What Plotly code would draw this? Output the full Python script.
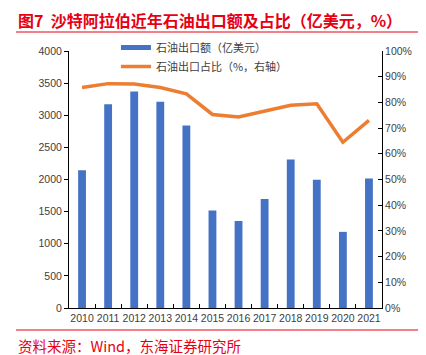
import plotly.graph_objects as go

years = ["2010", "2011", "2012", "2013", "2014", "2015", "2016", "2017", "2018", "2019", "2020", "2021"]
export_value = [2145, 3170, 3370, 3212, 2840, 1516, 1354, 1697, 2310, 1998, 1185, 2015]
export_share = [85.8, 87.3, 87.2, 85.8, 83.3, 75.3, 74.3, 76.7, 78.9, 79.5, 64.5, 73.0]
left_ticks = [0, 500, 1000, 1500, 2000, 2500, 3000, 3500, 4000]
right_ticks = [0, 10, 20, 30, 40, 50, 60, 70, 80, 90, 100]
right_labels = [f"{v}%" for v in right_ticks]

BLUE = "#4472C4"
ORANGE = "#ED7D31"
RED = "#E60012"
FONT = "Liberation Sans, Noto Sans CJK SC, sans-serif"
CJK = "Noto Sans CJK SC, sans-serif"

fig = go.Figure()
fig.add_trace(go.Bar(x=years, y=export_value, marker_color=BLUE, marker_line_width=0,
                     width=0.3, showlegend=False, yaxis="y"))
# legend entries
fig.add_trace(go.Scatter(x=[None], y=[None], mode="lines", line=dict(color=BLUE, width=5),
                         name="石油出口额（亿美元）", yaxis="y"))
fig.add_trace(go.Scatter(x=years, y=export_share, mode="lines", line=dict(color=ORANGE, width=3.5),
                         name="石油出口占比（%，右轴）", yaxis="y2", showlegend=True))

fig.update_layout(
    width=426, height=355,
    margin=dict(l=69, r=44, t=51, b=47, autoexpand=False),
    paper_bgcolor="white", plot_bgcolor="white",
    font=dict(family=FONT, size=10.5, color="#404040"),
    bargap=0.7,
    xaxis=dict(type="category", showline=True, linecolor="#000000", linewidth=1,
               ticks="inside", tickson="boundaries", ticklen=4, tickcolor="#000000",
               showgrid=False, tickangle=0, tickfont=dict(size=10.5, color="#404040")),
    yaxis=dict(range=[0, 4000], tickvals=left_ticks, showline=True, linecolor="#000000",
               linewidth=1, ticks="outside", ticklen=4, tickcolor="#000000", showgrid=False,
               zeroline=False, tickfont=dict(size=10.5, color="#404040")),
    yaxis2=dict(range=[0, 100], tickvals=right_ticks, ticktext=right_labels, overlaying="y",
                side="right", showline=True, linecolor="#000000", linewidth=1, ticks="inside",
                ticklen=4, tickcolor="#000000", showgrid=False, zeroline=False,
                tickfont=dict(size=10.5, color="#404040")),
    legend=dict(x=0.15, y=1.07, xanchor="left", yanchor="top", bgcolor="rgba(0,0,0,0)",
                font=dict(family=CJK, size=11, color="#404040"), tracegroupgap=0,
                itemwidth=30),
    annotations=[
        dict(text="<b>图7  沙特阿拉伯近年石油出口额及占比（亿美元，%）</b>", xref="paper", yref="paper",
             x=(16 - 69) / 313, y=1 + 31 / 257, xanchor="left", yanchor="middle", showarrow=False,
             font=dict(family=CJK, size=16, color=RED)),
        dict(text="资料来源：Wind，东海证券研究所", xref="paper", yref="paper",
             x=(16 - 69) / 313, y=-37 / 257, xanchor="left", yanchor="middle", showarrow=False,
             font=dict(family=CJK, size=14.5, color=RED)),
    ],
    shapes=[
        dict(type="line", xref="paper", yref="paper", x0=(16 - 69) / 313, x1=(418 - 69) / 313,
             y0=1 + 19 / 257, y1=1 + 19 / 257, line=dict(color=RED, width=1)),
        dict(type="line", xref="paper", yref="paper", x0=(16 - 69) / 313, x1=(418 - 69) / 313,
             y0=-22 / 257, y1=-22 / 257, line=dict(color=RED, width=1)),
    ],
)

fig.write_html("out.html", config={"displayModeBar": False},
               post_script="document.body.style.margin='0';")
